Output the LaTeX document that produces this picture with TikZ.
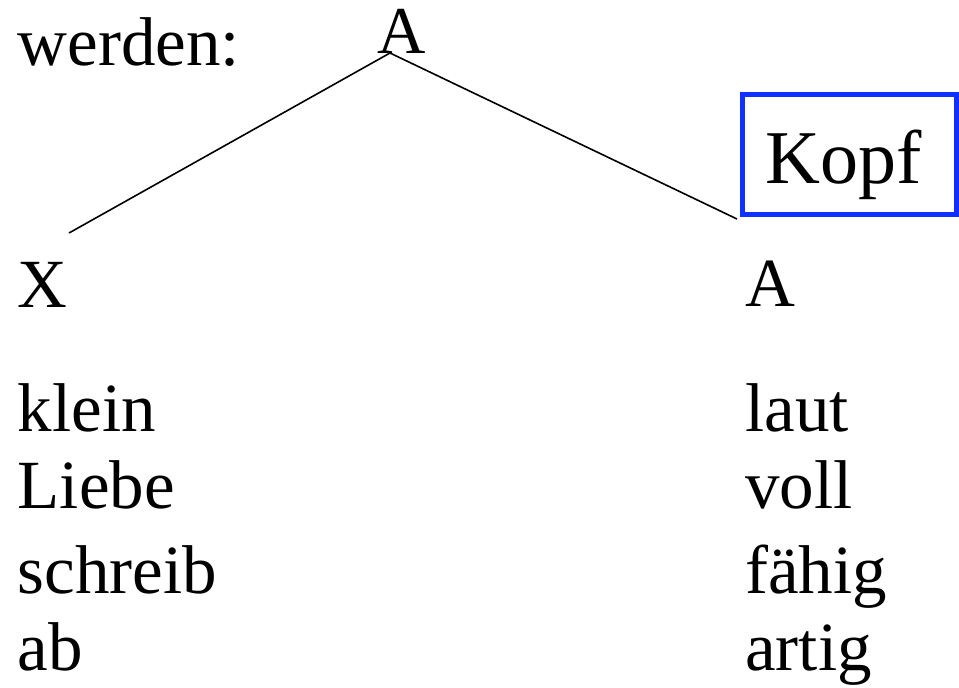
\documentclass[tikz,border=0pt]{standalone}
\usepackage{fontspec}
\setmainfont{Liberation Serif}
\definecolor{kopfblue}{RGB}{16,48,255}
\begin{document}
\begin{tikzpicture}[x=1pt,y=-1pt,
  word/.style={anchor=base west,inner sep=0pt,font=\fontsize{69}{80}\selectfont},
  bigword/.style={anchor=base west,inner sep=0pt,font=\fontsize{76}{88}\selectfont},
  branch/.style={line width=1.6pt,black},
  headbox/.style={draw=kopfblue,line width=5pt,minimum width=214pt,minimum height=120pt,inner sep=0pt}]
\useasboundingbox (0,0) rectangle (959,688);
% top
\node[word] (werden) at (17.5,65) {werden:};
\node[word,anchor=base,font=\fontsize{67}{78}\selectfont] (topA) at (401.5,53) {A};
\coordinate (apex) at (390,53);
% head box
\node[headbox] (kopfbox) at (849.5,154.5) {};
\node[bigword] (kopf) at (765,183) {Kopf};
% daughters
\node[word] (X) at (17.5,307) {X};
\node[word] (rightA) at (745,306) {A};
\coordinate (xend) at (69,233);
\coordinate (aend) at (737,219);
\draw[branch] (apex) -- (xend);
\draw[branch] (apex) -- (aend);
% left column
\node[word] (l1) at (17.5,431) {klein};
\node[word] (l2) at (17.5,508) {Liebe};
\node[word] (l3) at (17.5,593) {schreib};
\node[word] (l4) at (17.5,670) {ab};
% right column
\node[word] (r1) at (745,431) {laut};
\node[word] (r2) at (745,508) {voll};
\node[word] (r3) at (745,593) {fähig};
\node[word] (r4) at (745,670) {artig};
\end{tikzpicture}
\end{document}
